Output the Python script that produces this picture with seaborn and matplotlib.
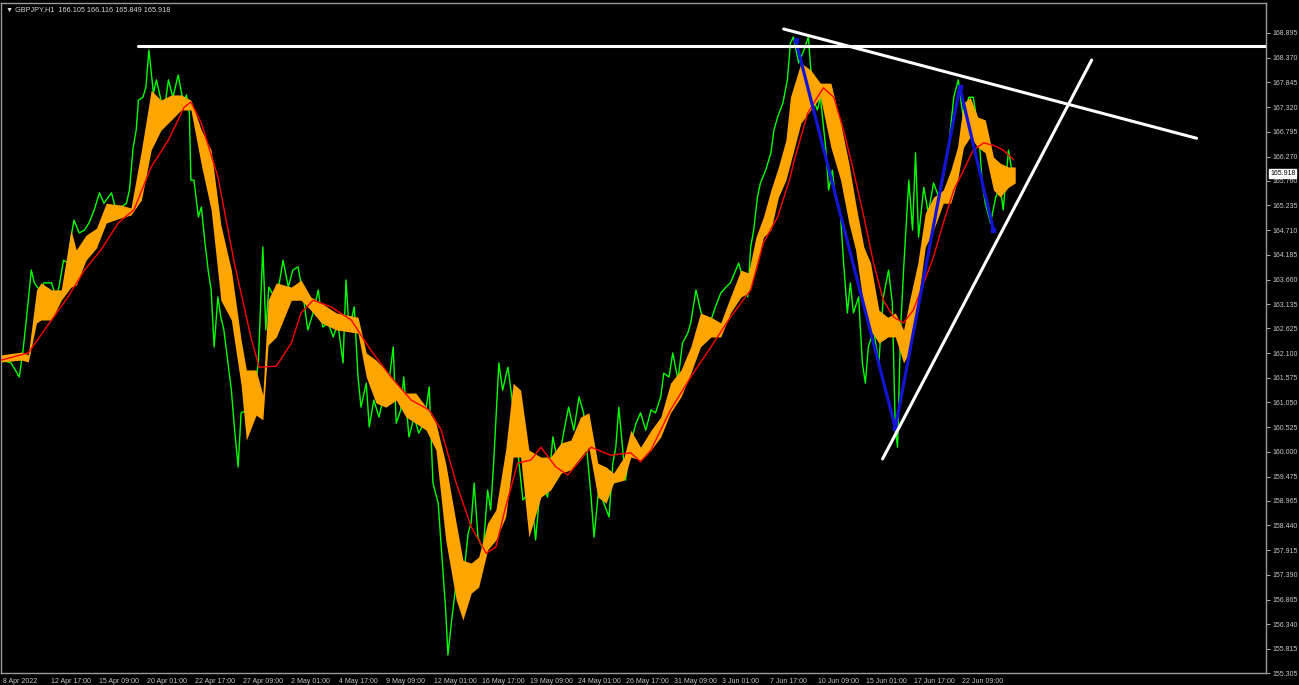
import matplotlib
matplotlib.use("Agg")
import matplotlib.pyplot as plt
import matplotlib.transforms as mtransforms
import seaborn as sns
import pandas as pd

# GBPJPY H1 close (bar index, price)
green_bar = [0, 13, 24, 29, 33, 40, 44, 51, 57, 67, 73, 77, 83, 89, 93, 97, 104, 111, 117, 124,
             131, 137, 147, 153, 160, 167, 171, 176, 180, 183, 189, 193, 197, 203, 207, 213, 217, 223, 229, 236,
             243, 247, 251, 253, 257, 263, 267, 271, 276, 280, 284, 289, 293, 297, 307, 311, 316, 320, 329, 337,
             343, 349, 353, 357, 364, 371, 376, 383, 389, 396, 403, 409, 416, 423, 429, 436, 443, 449, 456, 460,
             464, 471, 476, 480, 487, 491, 497, 504, 511, 517, 523, 527, 533, 537, 544, 551, 557, 564, 571, 576,
             583, 589, 593, 596, 601, 609, 616, 623, 627, 631, 636, 643, 649, 653, 657, 664, 669, 676, 683, 689,
             696, 707, 713, 720, 729, 736, 743, 751, 757, 764, 771, 777, 783, 787, 791, 797, 804, 811, 816, 820,
             824, 829, 833, 840, 847, 853, 860, 867, 873, 880, 884, 891, 896, 903, 909, 916, 920, 927, 933, 940,
             947, 953, 960, 967, 973, 980, 984, 991, 996, 1000, 1004, 1009, 1013, 1020, 1027, 1031, 1036, 1043, 1049, 1053,
             1057, 1064, 1071, 1077, 1083, 1089, 1093, 1100, 1104, 1109, 1113, 1120, 1124, 1129, 1133, 1137, 1144, 1149, 1153, 1157,
             1164, 1171, 1177, 1184, 1189, 1193, 1196, 1200, 1204, 1211, 1216, 1220, 1224, 1231, 1237, 1244, 1251, 1257, 1264, 1271,
             1277, 1284, 1291, 1297, 1304, 1309, 1313, 1320, 1327, 1333, 1337, 1344, 1349]
green_close = [161.95, 161.89, 161.59, 162.16, 162.74, 163.86, 163.59, 163.44, 163.59, 163.59,
               163.29, 163.50, 164.07, 164.01, 164.56, 164.92, 164.65, 164.71, 164.86, 165.14,
               165.50, 165.28, 165.50, 165.14, 165.20, 165.28, 165.56, 166.47, 166.83, 167.47,
               167.53, 167.75, 168.53, 167.62, 167.90, 167.47, 167.19, 167.90, 167.53, 168.00,
               167.41, 167.58, 167.19, 165.77, 165.77, 164.99, 165.20, 164.56, 163.86, 163.44,
               162.23, 163.29, 162.86, 162.59, 161.31, 160.53, 159.68, 160.83, 160.89, 161.17,
               161.89, 164.35, 162.59, 163.50, 163.29, 163.59, 164.07, 163.50, 163.86, 163.93,
               163.29, 162.59, 162.95, 163.44, 162.65, 162.74, 162.44, 162.74, 161.89, 163.65,
               162.59, 163.08, 161.59, 160.95, 161.46, 160.53, 161.10, 160.74, 161.25, 161.46,
               162.23, 160.61, 160.89, 161.59, 160.32, 160.74, 160.40, 160.61, 161.38, 159.34,
               158.91, 157.56, 156.64, 155.69, 156.43, 157.49, 157.22, 158.28, 158.49, 159.34,
               158.19, 157.92, 159.19, 158.77, 159.76, 161.89, 161.31, 161.80, 160.95, 160.04,
               158.98, 159.19, 158.13, 159.40, 159.04, 160.32, 159.76, 160.46, 160.95, 160.46,
               161.17, 160.83, 159.76, 159.04, 158.19, 159.19, 158.91, 158.62, 159.76, 160.10,
               160.95, 160.10, 159.40, 160.19, 160.61, 160.83, 160.46, 160.89, 160.83, 161.17,
               161.67, 161.59, 162.10, 161.53, 162.31, 162.52, 162.74, 163.44, 163.01, 162.59,
               162.80, 163.08, 163.37, 163.50, 163.59, 163.86, 164.01, 163.59, 163.29, 164.35,
               164.71, 165.41, 165.71, 165.98, 166.35, 166.83, 167.11, 167.41, 167.90, 168.68,
               168.81, 168.26, 168.53, 168.81, 167.53, 167.26, 167.53, 166.47, 165.56, 165.98,
               165.41, 164.99, 164.01, 162.95, 163.59, 162.95, 163.29, 161.89, 161.46, 162.23,
               162.59, 161.89, 163.29, 163.86, 163.16, 160.46, 160.10, 162.59, 163.86, 165.77,
               164.71, 166.35, 164.56, 165.62, 165.07, 165.71, 165.41, 165.84, 166.47, 167.53,
               167.90, 167.05, 167.53, 167.53, 166.83, 165.71, 165.28, 164.86, 165.41, 165.62,
               165.14, 166.41, 165.92]

# orange band (upper / lower edge)
band_bar = [0, 27, 36, 47, 53, 67, 80, 93, 100, 113, 127, 140, 160, 173, 187, 200, 213, 227, 240, 253,
            267, 280, 293, 307, 320, 327, 340, 349, 356, 367, 387, 400, 413, 427, 447, 476, 487, 500, 513, 527,
            540, 553, 567, 580, 593, 607, 616, 627, 637, 649, 660, 673, 683, 693, 704, 720, 733, 747, 760, 773,
            784, 796, 807, 817, 831, 840, 853, 867, 880, 893, 907, 920, 933, 947, 960, 973, 987, 997, 1007, 1017,
            1027, 1037, 1047, 1053, 1067, 1080, 1093, 1107, 1120, 1131, 1140, 1151, 1160, 1171, 1183, 1193, 1204, 1213, 1223, 1233,
            1244, 1257, 1267, 1276, 1284, 1293, 1303, 1313, 1324, 1333, 1344, 1353]
band_hi = [162.06, 162.12, 162.06, 163.44, 163.59, 163.44, 163.44, 164.71, 164.29, 164.60,
           164.75, 165.28, 165.24, 165.18, 166.41, 167.68, 167.47, 167.58, 167.58, 167.47,
           166.83, 166.41, 164.82, 163.86, 162.38, 161.74, 161.74, 161.21, 163.22, 163.59,
           163.50, 163.65, 163.29, 163.16, 162.95, 162.86, 162.10, 161.95, 161.74, 161.46,
           161.25, 161.25, 160.95, 160.61, 159.76, 158.49, 157.70, 157.64, 157.77, 158.49,
           158.77, 160.04, 161.46, 161.31, 160.04, 159.89, 159.89, 160.19, 160.25, 160.74,
           160.83, 159.76, 159.68, 159.55, 159.89, 160.46, 160.10, 160.46, 160.74, 161.46,
           161.74, 162.23, 162.95, 162.86, 162.74, 163.29, 163.86, 163.80, 164.56, 164.99,
           165.56, 166.05, 166.62, 167.53, 168.26, 168.11, 167.83, 167.83, 166.98, 166.13,
           165.28, 164.35, 164.01, 163.01, 162.86, 162.95, 162.59, 163.29, 164.01, 165.07,
           165.41, 165.56, 165.98, 166.47, 167.41, 167.53, 167.11, 167.05, 166.26, 166.13,
           166.05, 166.05]
band_lo = [161.91, 161.95, 161.91, 162.74, 162.80, 162.80, 163.22, 163.50, 163.54, 164.07,
           164.33, 164.86, 164.97, 165.03, 165.35, 166.41, 166.83, 167.05, 167.26, 167.26,
           166.09, 165.14, 163.22, 162.80, 161.42, 160.25, 160.78, 160.68, 162.27, 162.44,
           163.22, 163.22, 163.01, 162.74, 162.59, 162.52, 161.59, 161.04, 160.95, 161.10,
           160.74, 160.61, 160.46, 160.04, 158.13, 156.86, 156.43, 157.00, 157.13, 157.92,
           158.13, 158.62, 159.89, 159.89, 158.19, 159.04, 159.19, 159.55, 159.62, 159.89,
           160.10, 159.04, 158.91, 159.34, 159.40, 159.89, 159.83, 160.04, 160.32, 160.83,
           161.17, 161.67, 162.23, 162.44, 162.44, 162.95, 163.29, 163.37, 163.86, 164.56,
           164.71, 165.41, 165.77, 166.13, 166.98, 167.26, 167.53, 166.47, 165.77, 164.86,
           164.29, 163.08, 162.59, 162.31, 162.44, 162.44, 161.89, 162.16, 163.16, 164.35,
           164.71, 165.28, 165.28, 165.77, 166.47, 166.69, 166.47, 166.35, 165.56, 165.41,
           165.62, 165.71]

# red moving average
ma_bar = [0, 36, 67, 89, 111, 133, 156, 177, 200, 223, 244, 253, 267, 289, 311, 333, 344, 367, 387, 400,
          416, 440, 467, 493, 520, 547, 571, 587, 607, 627, 647, 660, 673, 689, 707, 720, 740, 756, 787, 813,
          840, 853, 867, 893, 920, 947, 973, 1000, 1017, 1036, 1053, 1057, 1076, 1089, 1097, 1111, 1124, 1137, 1151, 1164,
          1177, 1191, 1204, 1217, 1231, 1244, 1257, 1271, 1284, 1297, 1311, 1324, 1337, 1351]
ma_val = [161.95, 162.10, 162.80, 163.29, 163.86, 164.29, 164.86, 165.14, 166.05, 166.62,
          167.32, 167.43, 166.98, 165.84, 164.01, 162.44, 161.80, 161.82, 162.31, 162.95,
          163.22, 163.08, 162.80, 162.16, 161.59, 161.10, 160.89, 160.46, 159.34, 158.41,
          157.85, 157.98, 158.83, 159.76, 159.83, 160.10, 159.68, 159.51, 160.10, 159.93,
          159.98, 159.79, 160.04, 160.89, 161.59, 162.23, 162.86, 163.44, 164.44, 164.99,
          165.84, 166.13, 167.19, 167.53, 167.73, 167.53, 166.83, 165.98, 164.99, 164.01,
          163.22, 162.86, 162.74, 163.01, 163.59, 164.14, 164.86, 165.56, 165.98, 166.41,
          166.56, 166.51, 166.41, 166.20]

# blue zigzag and white drawn lines
zigzag_bar = [1060, 1193, 1279, 1324]
zigzag_val = [168.74, 160.51, 167.75, 164.71]
resist_level = 168.62
resist_start = 183
upper_trend_bar = [1044, 1595]
upper_trend_val = [168.98, 166.66]
lower_trend_bar = [1176, 1455]
lower_trend_val = [159.85, 168.32]

y_ticks = [168.895, 168.370, 167.845, 167.320, 166.795, 166.270, 165.760, 165.235, 164.710,
           164.185, 163.660, 163.135, 162.625, 162.100, 161.575, 161.050, 160.525, 160.000,
           159.475, 158.965, 158.440, 157.915, 157.390, 156.865, 156.340, 155.815, 155.305]
x_labels = ["8 Apr 2022", "12 Apr 17:00", "15 Apr 09:00", "20 Apr 01:00", "22 Apr 17:00",
            "27 Apr 09:00", "2 May 01:00", "4 May 17:00", "9 May 09:00", "12 May 01:00",
            "16 May 17:00", "19 May 09:00", "24 May 01:00", "26 May 17:00", "31 May 09:00",
            "3 Jun 01:00", "7 Jun 17:00", "10 Jun 09:00", "15 Jun 01:00", "17 Jun 17:00",
            "22 Jun 09:00"]
bars_per_label = 64
last_price = 165.918
title = "GBPJPY,H1  166.105 166.116 165.849 165.918"

sns.set_style("dark")
plt.rcParams['font.family'] = ['Liberation Sans', 'DejaVu Sans']

fig = plt.figure(figsize=(12.99, 6.85), dpi=100, facecolor="black")
ax = fig.add_axes([0.001, 0.0175, 0.9738, 0.978])
ax.set_facecolor("black")

price = pd.DataFrame({"bar": green_bar, "close": green_close})
ma = pd.DataFrame({"bar": ma_bar, "ma": ma_val})

sns.lineplot(data=price, x="bar", y="close", color="#00ff00", lw=1.0, estimator=None, ax=ax)
ax.fill_between(band_bar, band_lo, band_hi, color="#ffa500", lw=0, zorder=3)
sns.lineplot(data=ma, x="bar", y="ma", color="#ff0000", lw=1.0, estimator=None, ax=ax, zorder=4)
ax.plot(zigzag_bar, zigzag_val, color="#1414d4", lw=2.3, marker="s", ms=3, zorder=5)

ax.plot([resist_start, 1688], [resist_level, resist_level], color="white", lw=2.2, zorder=6)
ax.plot(upper_trend_bar, upper_trend_val, color="white", lw=2.2, zorder=6)
ax.plot(lower_trend_bar, lower_trend_val, color="white", lw=2.2, zorder=6)

ax.set_xlim(0, 1688)
ax.set_ylim(155.305, 169.53)
ax.set_xlabel("")
ax.set_ylabel("")

ax.set_xticks([i * bars_per_label for i in range(len(x_labels))])
ax.set_xticklabels(x_labels, ha="left")
ax.yaxis.tick_right()
ax.set_yticks(y_ticks)
ax.set_yticklabels([f"{v:.3f}" for v in y_ticks])
ax.tick_params(axis="both", colors="#c8c8c8", labelsize=5.0, length=3, width=0.6,
               direction="out", pad=1.5)
ax.tick_params(axis="x", pad=0.5)
for lab in ax.get_xticklabels():
    lab.set_transform(lab.get_transform() + mtransforms.ScaledTranslation(1.5 / 100, 0, fig.dpi_scale_trans))
ax.grid(False)
for s in ax.spines.values():
    s.set_color("#9a9a9a")
    s.set_linewidth(1.0)

ax.text(0.004, 0.995, "\u25bc " + title, transform=ax.transAxes, color="#d8d8d8",
        fontsize=5.2, va="top", ha="left")
trans = mtransforms.blended_transform_factory(ax.transAxes, ax.transData)
ax.text(1.003, last_price, f"{last_price:.3f}", transform=trans, color="black",
        fontsize=5.0, va="center", ha="left", zorder=10, clip_on=False,
        bbox=dict(boxstyle="square,pad=0.12", fc="white", ec="white"))

fig.savefig("out.png", dpi=100, facecolor="black")
